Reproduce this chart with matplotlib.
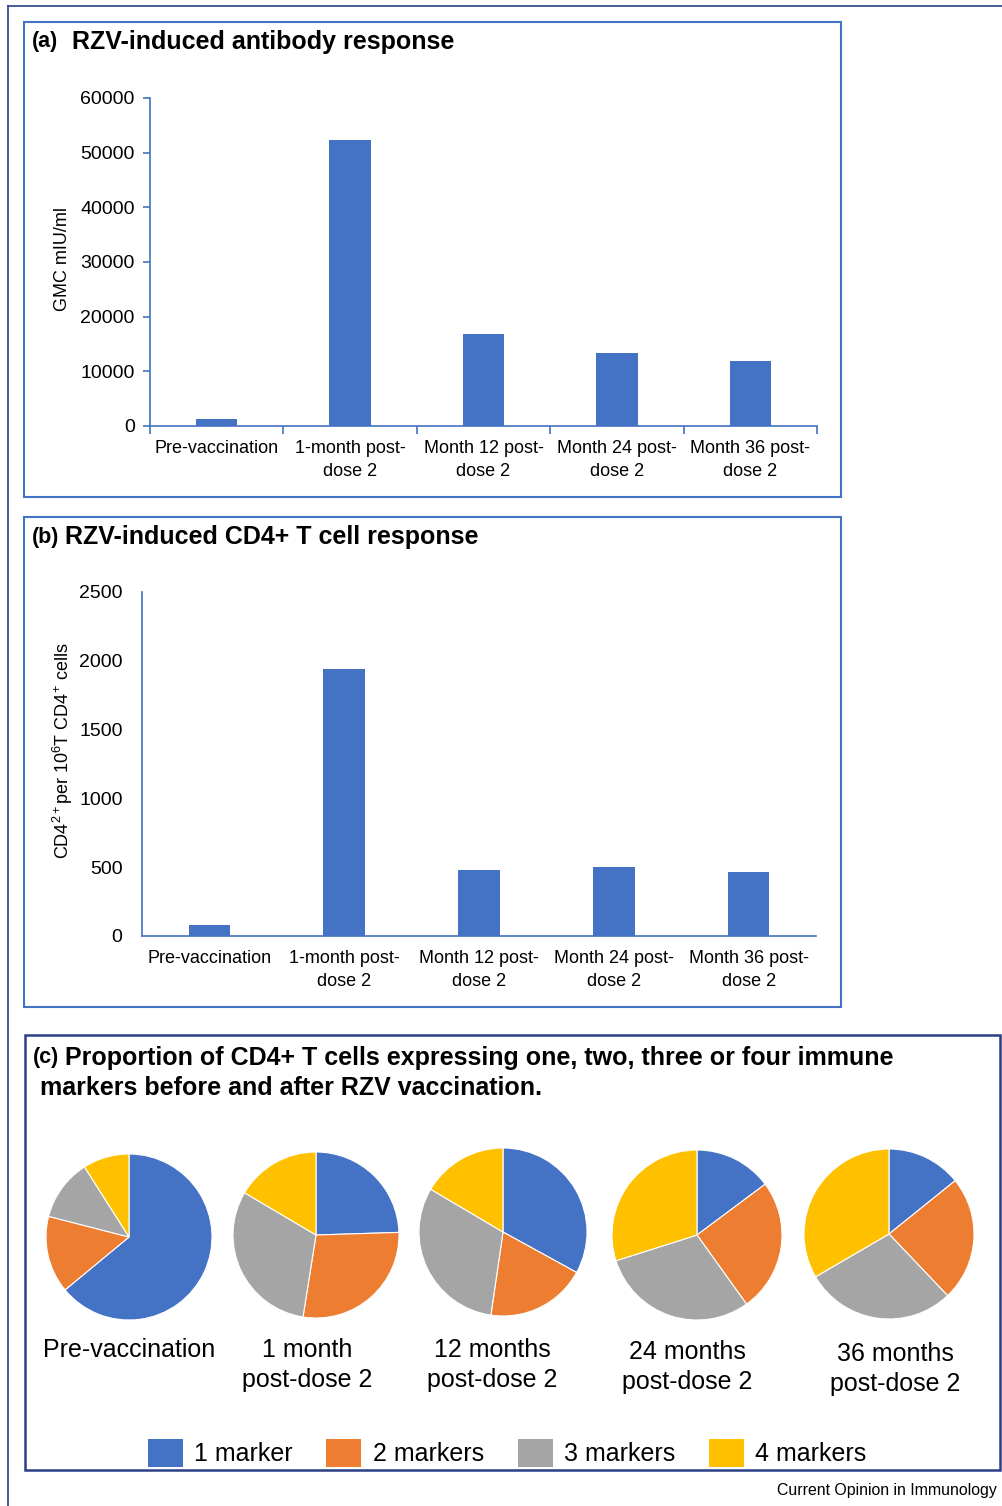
import numpy as np
import matplotlib
matplotlib.use("Agg")
from matplotlib import pyplot as plt
from matplotlib.patches import Rectangle, Patch
from matplotlib.lines import Line2D

plt.rcParams['font.family'] = ['Liberation Sans', 'DejaVu Sans']
plt.rcParams['mathtext.fontset'] = 'custom'
plt.rcParams['mathtext.rm'] = 'Liberation Sans'
plt.rcParams['mathtext.it'] = 'Liberation Sans'

# 数据
categories = ["Pre-vaccination", "1-month post-\ndose 2", "Month 12 post-\ndose 2",
              "Month 24 post-\ndose 2", "Month 36 post-\ndose 2"]
gmc = [1300, 52300, 16800, 13400, 11900]
cd4 = [80, 1940, 480, 500, 465]

pie_labels = ["Pre-vaccination", "1 month\npost-dose 2", "12 months\npost-dose 2",
              "24 months\npost-dose 2", "36 months\npost-dose 2"]
marker_names = ["1 marker", "2 markers", "3 markers", "4 markers"]
pie_pre = [64, 15, 12, 9]
pie_m1 = [24.5, 28, 31, 16.5]
pie_m12 = [33, 19.3, 31.2, 16.5]
pie_m24 = [14.8, 25.3, 30, 29.9]
pie_m36 = [14.2, 23.7, 28.7, 33.4]

BLUE = "#4472C4"
colors = [BLUE, "#ED7D31", "#A5A5A5", "#FFC000"]
NAVY = "#2B3F86"

W, H = 1002, 1506
fig = plt.figure(figsize=(W / 100, H / 100), dpi=100)


def fx(x):
    return x / W


def fy(y):
    return 1 - y / H


def box(x0, y0, x1, y1, color, lw=1.5):
    fig.add_artist(Rectangle((fx(x0), fy(y1)), fx(x1) - fx(x0), fy(y0) - fy(y1),
                             transform=fig.transFigure, fill=False, edgecolor=color, lw=lw))


# 外框
fig.add_artist(Line2D([fx(8), 1], [fy(6), fy(6)], transform=fig.transFigure, color=NAVY, lw=1.2))
fig.add_artist(Line2D([fx(8), fx(8)], [fy(6), 0], transform=fig.transFigure, color=NAVY, lw=1.2))

box(24, 22, 841, 497, BLUE)
box(24, 517, 841, 1007, BLUE)
box(25, 1035, 1000, 1470, NAVY, lw=1.8)


def bar_panel(rect, values, ymax, step, ylabel, ylab_x, ylab_y, ticks=True, ypad=8):
    l, t, r, b = rect
    ax = fig.add_axes([fx(l), fy(b), fx(r) - fx(l), fy(t) - fy(b)])
    x = np.arange(len(values))
    ax.bar(x, values, width=0.31, color=BLUE)
    ax.set_xlim(-0.5, len(values) - 0.5)
    ax.set_ylim(0, ymax)
    ax.set_yticks(np.arange(0, ymax + 1, step))
    ax.set_xticks(x)
    ax.set_xticklabels(categories, fontsize=13, linespacing=1.45)
    ax.tick_params(axis='x', which='major', length=0, pad=10)
    if ticks:
        ax.set_xticks(np.arange(-0.5, len(values)), minor=True)
        ax.tick_params(axis='x', which='minor', length=6, color=BLUE, width=1.2)
        ax.tick_params(axis='y', labelsize=14, length=5, color=BLUE, width=1.2, pad=ypad)
    else:
        ax.tick_params(axis='y', labelsize=14, length=0, pad=ypad)
    for s in ["top", "right"]:
        ax.spines[s].set_visible(False)
    for s in ["left", "bottom"]:
        ax.spines[s].set_color(BLUE)
        ax.spines[s].set_linewidth(1.2)
    fig.text(fx(ylab_x), fy(ylab_y), ylabel, rotation=90, ha='center', va='center', fontsize=13)
    return ax


bar_panel((150, 98, 817, 426), gmc, 60000, 10000, "GMC mIU/ml", 63, 259, ticks=True, ypad=6)
bar_panel((142, 592, 816, 936), cd4, 2500, 500,
          r"CD4$^{2+}$per 10$^{6}$T CD4$^{+}$ cells", 63, 751, ticks=False, ypad=14)

# 标题
fig.text(fx(32), fy(42), "(a)", fontsize=15.5, fontweight='bold', va='center')
fig.text(fx(72), fy(42), "RZV-induced antibody response", fontsize=18, fontweight='bold', va='center')
fig.text(fx(32), fy(537), "(b)", fontsize=15.5, fontweight='bold', va='center')
fig.text(fx(65), fy(537), "RZV-induced CD4+ T cell response", fontsize=18, fontweight='bold', va='center')
fig.text(fx(33), fy(1058), "(c)", fontsize=15.5, fontweight='bold', va='center')
fig.text(fx(65), fy(1058), "Proportion of CD4+ T cells expressing one, two, three or four immune",
         fontsize=18, fontweight='bold', va='center')
fig.text(fx(40), fy(1088), "markers before and after RZV vaccination.",
         fontsize=18, fontweight='bold', va='center')

# 饼图
pies = [pie_pre, pie_m1, pie_m12, pie_m24, pie_m36]
centers = [(129, 1237), (316, 1235), (503, 1232), (697, 1235), (889, 1234)]
radii = [83, 83, 84, 85, 85]
label_pos = [(129, 1350), (307, 1365), (492, 1365), (687, 1367), (895, 1369)]
for vals, (cx, cy), r, lab, (lx, ly) in zip(pies, centers, radii, pie_labels, label_pos):
    ax = fig.add_axes([fx(cx - r), fy(cy + r), 2 * r / W, 2 * r / H])
    ax.pie(vals, colors=colors, startangle=90, counterclock=False,
           wedgeprops=dict(edgecolor='white', linewidth=0.8))
    ax.set_xlim(-1, 1)
    ax.set_ylim(-1, 1)
    ax.axis('off')
    fig.text(fx(lx), fy(ly), lab, ha='center', va='center', fontsize=18, linespacing=1.28)

handles = [Patch(facecolor=c, edgecolor='none') for c in colors]
fig.legend(handles, marker_names, loc='center', bbox_to_anchor=(fx(507), fy(1453)),
           ncol=4, frameon=False, fontsize=18, handlelength=1.4, handleheight=1.3,
           handletextpad=0.45, columnspacing=1.35)

fig.text(fx(997), fy(1491), "Current Opinion in Immunology", ha='right', va='center', fontsize=11.4)

fig.savefig("out.png", dpi=100)
